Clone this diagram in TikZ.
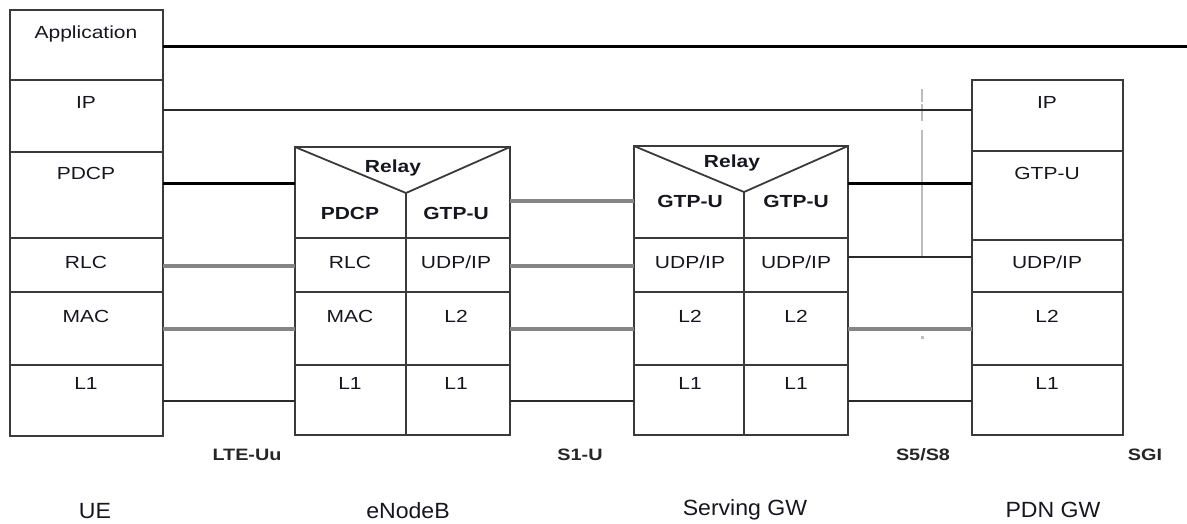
\documentclass[tikz,border=0pt]{standalone}
\usepackage{fontspec}
\setmainfont{Liberation Sans}[FakeStretch=1.2]
\newfontfamily\entfont{Liberation Sans}[FakeStretch=1.05]
\definecolor{edge}{HTML}{3A3A3A}
\definecolor{dark}{HTML}{2A2A2A}
\definecolor{grayl}{HTML}{858585}
\definecolor{dashc}{HTML}{BDBDBD}
\definecolor{txtc}{HTML}{16161F}
\tikzset{
  cell/.style={draw=edge, line width=1.6pt, anchor=north west, inner sep=0pt, outer sep=0pt},
  lay/.style={font=\fontsize{17.5}{19}\selectfont, text=txtc, inner sep=0pt},
  layb/.style={font=\fontsize{17.5}{19}\selectfont\bfseries, text=txtc, inner sep=0pt},
  iface/.style={font=\fontsize{16.5}{19}\selectfont\bfseries, text=black!85, inner sep=0pt},
  ent/.style={font=\entfont\fontsize{22}{24}\selectfont, text=txtc, inner sep=0pt},
  blk/.style={line width=3pt, black},
  gry/.style={line width=3.5pt, grayl},
  drk/.style={line width=2.6pt, dark},
  relayv/.style={line width=1.8pt, edge, line join=miter},
}
\begin{document}
\begin{tikzpicture}[x=1pt, y=-1pt]
\useasboundingbox (0,0) rectangle (1187,523);

% ---------------- UE ----------------
\node[cell, minimum width=153pt, minimum height=70pt] (ueApp) at (10,10) {};
\node[cell, minimum width=153pt, minimum height=72pt] (ueIP) at (10,80) {};
\node[cell, minimum width=153pt, minimum height=86pt] (uePDCP) at (10,152) {};
\node[cell, minimum width=153pt, minimum height=54pt] (ueRLC) at (10,238) {};
\node[cell, minimum width=153pt, minimum height=73pt] (ueMAC) at (10,292) {};
\node[cell, minimum width=153pt, minimum height=71pt] (ueL1) at (10,365) {};
\draw[edge, line width=2.4pt] (ueApp.north west) rectangle (ueL1.south east);
\node[lay] (tApp) at (86,34) {Application};
\node[lay] (tUeIP) at (86,102) {IP};
\node[lay] (tUePDCP) at (86,173) {PDCP};
\node[lay] (tUeRLC) at (86,262) {RLC};
\node[lay] (tUeMAC) at (86,316) {MAC};
\node[lay] (tUeL1) at (86,383) {L1};

% ---------------- eNodeB ----------------
\node[cell, minimum width=215pt, minimum height=91pt] (enbTop) at (295,147) {};
\coordinate (enbV) at (406,193);
\draw[relayv] (enbTop.north west) -- (enbV) -- (enbTop.north east);
\draw[edge, line width=1.6pt] (enbV) -- (enbV |- enbTop.south);
\node[cell, minimum width=111pt, minimum height=54pt] (enbRLC) at (295,238) {};
\node[cell, minimum width=104pt, minimum height=54pt] (enbUDP) at (406,238) {};
\node[cell, minimum width=111pt, minimum height=73pt] (enbMAC) at (295,292) {};
\node[cell, minimum width=104pt, minimum height=73pt] (enbL2) at (406,292) {};
\node[cell, minimum width=111pt, minimum height=70pt] (enbL1a) at (295,365) {};
\node[cell, minimum width=104pt, minimum height=70pt] (enbL1b) at (406,365) {};
\draw[edge, line width=2.4pt] (enbTop.north west) rectangle (enbL1b.south east);
\node[layb] (tEnbRelay) at (393,168) {Relay};
\node[layb] (tEnbPDCP) at (350,213) {PDCP};
\node[layb] (tEnbGTP) at (456,213) {GTP-U};
\node[lay] (tEnbRLC) at (350,262) {RLC};
\node[lay] (tEnbUDP) at (456,262) {UDP/IP};
\node[lay] (tEnbMAC) at (350,316) {MAC};
\node[lay] (tEnbL2) at (456,316) {L2};
\node[lay] (tEnbL1a) at (350,383) {L1};
\node[lay] (tEnbL1b) at (456,383) {L1};

% ---------------- Serving GW ----------------
\node[cell, minimum width=214pt, minimum height=92pt] (sgwTop) at (634,146) {};
\coordinate (sgwV) at (744,192);
\draw[relayv] (sgwTop.north west) -- (sgwV) -- (sgwTop.north east);
\draw[edge, line width=1.6pt] (sgwV) -- (sgwV |- sgwTop.south);
\node[cell, minimum width=110pt, minimum height=54pt] (sgwUDPa) at (634,238) {};
\node[cell, minimum width=104pt, minimum height=54pt] (sgwUDPb) at (744,238) {};
\node[cell, minimum width=110pt, minimum height=73pt] (sgwL2a) at (634,292) {};
\node[cell, minimum width=104pt, minimum height=73pt] (sgwL2b) at (744,292) {};
\node[cell, minimum width=110pt, minimum height=70pt] (sgwL1a) at (634,365) {};
\node[cell, minimum width=104pt, minimum height=70pt] (sgwL1b) at (744,365) {};
\draw[edge, line width=2.4pt] (sgwTop.north west) rectangle (sgwL1b.south east);
\node[layb] (tSgwRelay) at (732,163) {Relay};
\node[layb] (tSgwGTPa) at (690,201) {GTP-U};
\node[layb] (tSgwGTPb) at (796,201) {GTP-U};
\node[lay] (tSgwUDPa) at (690,262) {UDP/IP};
\node[lay] (tSgwUDPb) at (796,262) {UDP/IP};
\node[lay] (tSgwL2a) at (690,316) {L2};
\node[lay] (tSgwL2b) at (796,316) {L2};
\node[lay] (tSgwL1a) at (690,383) {L1};
\node[lay] (tSgwL1b) at (796,383) {L1};

% ---------------- PDN GW ----------------
\node[cell, minimum width=151pt, minimum height=71pt] (pdnIP) at (972,80) {};
\node[cell, minimum width=151pt, minimum height=89pt] (pdnGTP) at (972,151) {};
\node[cell, minimum width=151pt, minimum height=52pt] (pdnUDP) at (972,240) {};
\node[cell, minimum width=151pt, minimum height=73pt] (pdnL2) at (972,292) {};
\node[cell, minimum width=151pt, minimum height=70pt] (pdnL1) at (972,365) {};
\draw[edge, line width=2.4pt] (pdnIP.north west) rectangle (pdnL1.south east);
\node[lay] (tPdnIP) at (1047,102) {IP};
\node[lay] (tPdnGTP) at (1047,173) {GTP-U};
\node[lay] (tPdnUDP) at (1047,262) {UDP/IP};
\node[lay] (tPdnL2) at (1047,316) {L2};
\node[lay] (tPdnL1) at (1047,383) {L1};

% ---------------- S5/S8 reference mark ----------------
\draw[dashc, line width=2.5pt] (922,89) -- (922,102);
\draw[dashc, line width=2.5pt] (922,104) -- (922,121);
\draw[dashc, line width=2.5pt] (922,130) -- (922,256);
\fill[dashc] (921,336) rectangle (923.5,338.5);

% ---------------- connectors ----------------
\coordinate (appEnd) at (1187,46);
\draw[blk] (ueApp.east |- 0,46) -- (appEnd);
\draw[drk] (ueIP.east |- 0,110) -- (pdnIP.west |- 0,110);
\draw[blk] (uePDCP.east |- 0,183) -- (enbTop.west |- 0,183);
\draw[gry] (ueRLC.east |- 0,266) -- (enbRLC.west |- 0,266);
\draw[gry] (ueMAC.east |- 0,329) -- (enbMAC.west |- 0,329);
\draw[drk] (ueL1.east |- 0,401) -- (enbL1a.west |- 0,401);

\draw[gry] (enbTop.east |- 0,201) -- (sgwTop.west |- 0,201);
\draw[gry] (enbUDP.east |- 0,266) -- (sgwUDPa.west |- 0,266);
\draw[gry] (enbL2.east |- 0,329) -- (sgwL2a.west |- 0,329);
\draw[drk] (enbL1b.east |- 0,401) -- (sgwL1a.west |- 0,401);

\draw[blk] (sgwTop.east |- 0,183) -- (pdnGTP.west |- 0,183);
\draw[drk] (sgwUDPb.east |- 0,257) -- (pdnUDP.west |- 0,257);
\draw[gry] (sgwL2b.east |- 0,329) -- (pdnL2.west |- 0,329);
\draw[drk] (sgwL1b.east |- 0,401) -- (pdnL1.west |- 0,401);

% ---------------- interface labels ----------------
\node[iface] (lLTE) at (247,455) {LTE-Uu};
\node[iface] (lS1) at (580,455) {S1-U};
\node[iface] (lS5) at (923,455) {S5/S8};
\node[iface] (lSGI) at (1145,455) {SGI};

% ---------------- entity labels ----------------
\node[ent] (eUE) at (95,511) {UE};
\node[ent] (eENB) at (408,511) {eNodeB};
\node[ent] (eSGW) at (745,510) {Serving GW};
\node[ent] (ePDN) at (1053,510) {PDN GW};
\end{tikzpicture}
\end{document}
